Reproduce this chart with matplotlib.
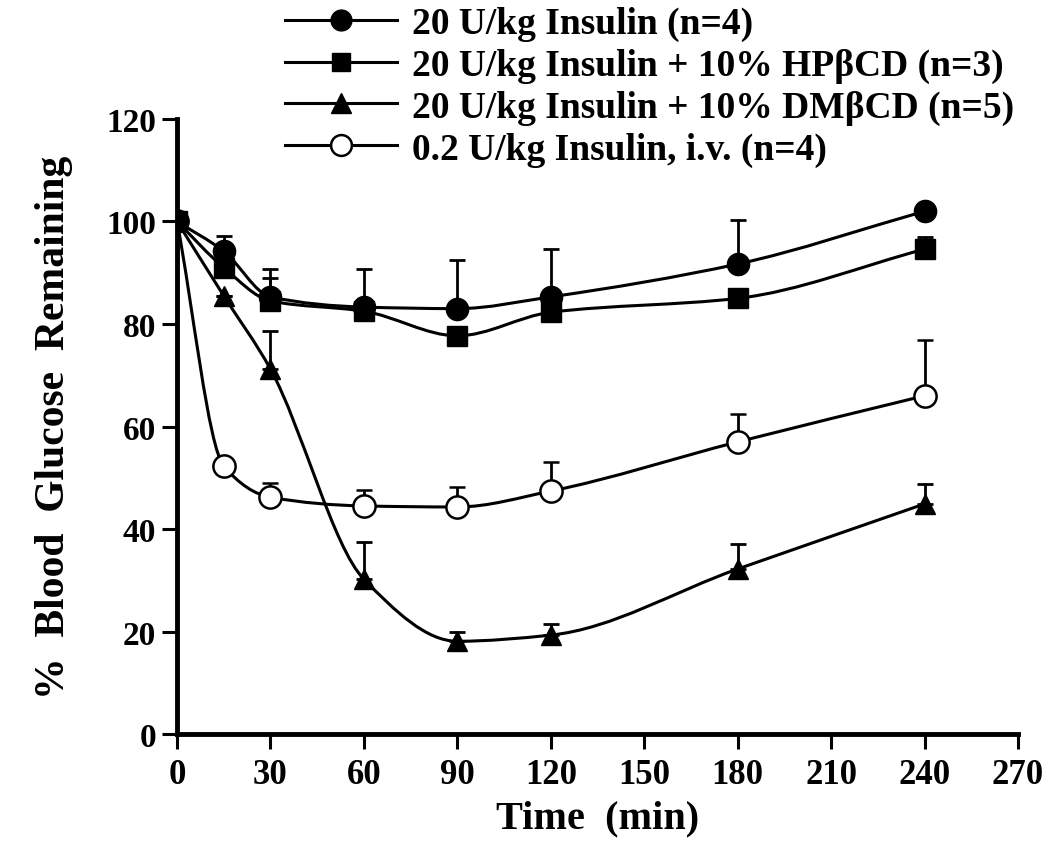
import matplotlib
matplotlib.use("Agg")
import matplotlib.pyplot as plt
from matplotlib.lines import Line2D
from matplotlib.path import Path
from matplotlib.patches import PathPatch
import numpy as np

# time points (min)
time = [0, 15, 30, 60, 90, 120, 180, 240]

# % blood glucose remaining
ins20 = [100, 94.2, 85.3, 83.3, 83.0, 85.3, 91.7, 102.0]
ins20_err = [0, 3.0, 5.4, 7.4, 9.4, 9.3, 8.6, 0]

hp = [100, 91.0, 84.5, 82.5, 77.7, 82.3, 85.0, 94.6]
hp_err = [0, 2.0, 4.5, 0, 1.0, 0.8, 0, 2.4]

dm = [100, 85.5, 71.2, 30.2, 18.1, 19.3, 32.2, 44.9]
dm_err = [0, 0, 7.4, 7.3, 1.8, 2.2, 4.8, 3.9]

iv = [100, 52.3, 46.2, 44.5, 44.3, 47.4, 57.0, 66.0]
iv_err = [0, 0, 2.8, 3.1, 3.9, 5.6, 5.4, 10.9]

labels = ["20 U/kg Insulin (n=4)",
          "20 U/kg Insulin + 10% HP\u03b2CD (n=3)",
          "20 U/kg Insulin + 10% DM\u03b2CD (n=5)",
          "0.2 U/kg Insulin, i.v. (n=4)"]


def smooth_path(x, y):
    # monotone cubic (pchip-style tangents) drawn as bezier segments
    x = np.asarray(x, float)
    y = np.asarray(y, float)
    h = np.diff(x)
    d = np.diff(y) / h
    m = np.zeros(len(x))
    m[0], m[-1] = d[0], d[-1]
    for i in range(1, len(x) - 1):
        if d[i - 1] * d[i] <= 0:
            m[i] = 0
        else:
            w1 = 2 * h[i] + h[i - 1]
            w2 = h[i] + 2 * h[i - 1]
            m[i] = (w1 + w2) / (w1 / d[i - 1] + w2 / d[i])
    verts = [(x[0], y[0])]
    codes = [Path.MOVETO]
    for i in range(len(x) - 1):
        verts += [(x[i] + h[i] / 3, y[i] + m[i] * h[i] / 3),
                  (x[i + 1] - h[i] / 3, y[i + 1] - m[i + 1] * h[i] / 3),
                  (x[i + 1], y[i + 1])]
        codes += [Path.CURVE4] * 3
    return Path(verts, codes)


plt.rcParams['font.family'] = ['Liberation Serif', 'DejaVu Serif']
plt.rcParams['font.weight'] = 'bold'

fig = plt.figure(figsize=(10.5, 8.54), dpi=100)
ax = fig.add_axes([0.1686, 0.1393, 0.8009, 0.7202])

styles = [
    dict(marker='o', markersize=16, mfc='black'),
    dict(marker='s', markersize=14, mfc='black'),
    dict(marker='^', markersize=15, mfc='black'),
    dict(marker='o', markersize=16, mfc='white', mew=1.8),
]
data = [(ins20, ins20_err), (hp, hp_err), (dm, dm_err), (iv, iv_err)]

# draw open circles first so filled markers sit on top at t=0
for k in [3, 2, 1, 0]:
    y, e = data[k]
    ax.add_patch(PathPatch(smooth_path(time, y), fill=False, lw=2.2,
                           edgecolor='black', zorder=2))
    ax.errorbar(time, y, yerr=[np.zeros(len(e)), e], color='black', ls='none',
                elinewidth=2, capsize=5.5, capthick=2, mec='black',
                zorder=3 + (3 - k) * 0.1, **styles[k])

ax.set_xlim(0, 270)
ax.set_ylim(0, 120)
ax.set_xticks(range(0, 271, 30))
ax.set_yticks(range(0, 121, 20))

for s in ['top', 'right']:
    ax.spines[s].set_visible(False)
for s in ['left', 'bottom']:
    ax.spines[s].set_linewidth(3.5)

ax.tick_params(axis='x', direction='out', length=11, width=2.2, labelsize=25, pad=6)
ax.tick_params(axis='y', direction='out', length=11, width=2.2, labelsize=24, pad=4)
for t in ax.get_xticklabels() + ax.get_yticklabels():
    t.set_fontweight('bold')

ax.set_xlabel("Time  (min)", fontsize=29, fontweight='bold', labelpad=6)
ax.set_ylabel("%  Blood  Glucose  Remaining", fontsize=30, fontweight='bold', labelpad=24)

handles = []
for st, lab in zip(styles, labels):
    st2 = dict(st)
    st2['markersize'] = st['markersize'] - 1
    handles.append(Line2D([], [], color='black', lw=2.2, mec='black', **st2))
fig.legend(handles, labels, loc='upper left', bbox_to_anchor=(0.2714, 0.992),
           frameon=False, fontsize=27, handlelength=3.0, labelspacing=0.18,
           handletextpad=0.4, borderaxespad=0.0, borderpad=0.0)

fig.savefig("out.png", dpi=100)
